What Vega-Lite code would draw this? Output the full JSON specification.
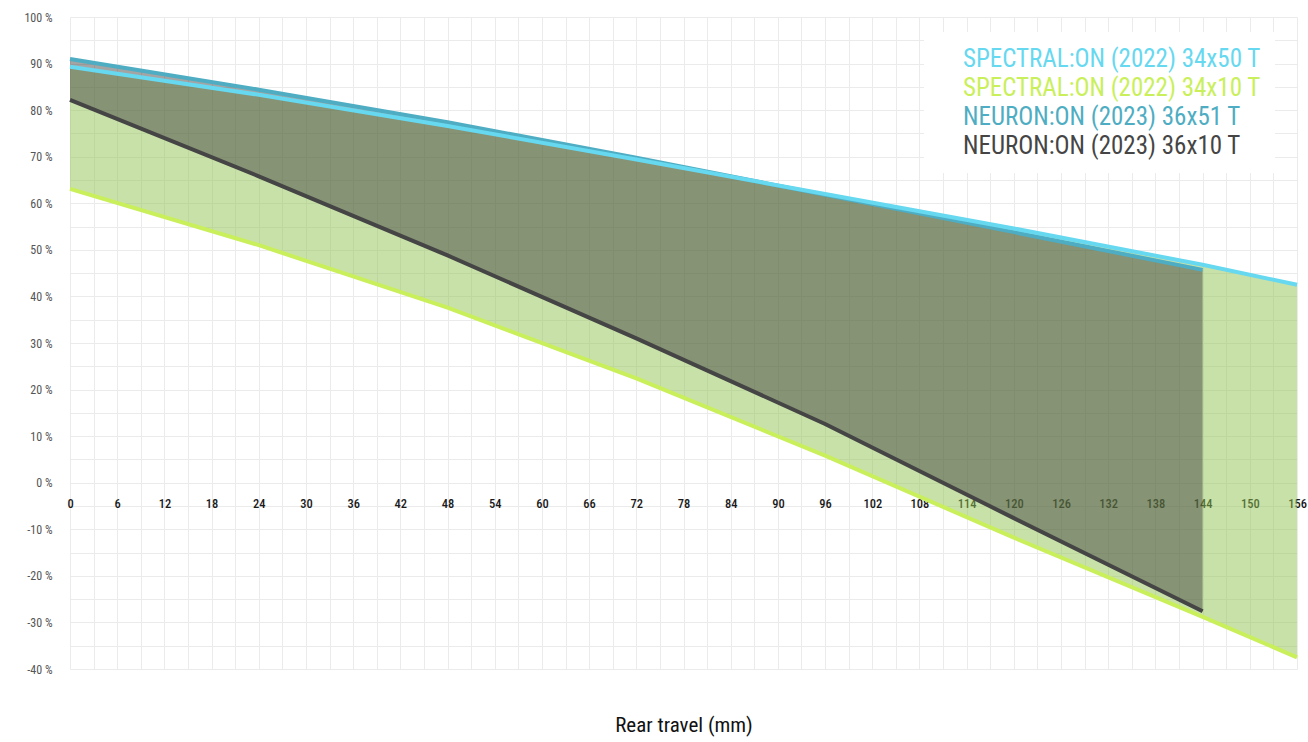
{
  "$schema": "https://vega.github.io/schema/vega-lite/v6.json",
  "width": 1227,
  "height": 652,
  "autosize": {"type": "none"},
  "padding": {"left": 70, "top": 17, "right": 11, "bottom": 73},
  "config": {
    "view": {"stroke": null},
    "font": "Roboto Condensed, Liberation Sans Narrow, DejaVu Sans Condensed, Roboto, sans-serif"
  },
  "data": {
    "values": [
      {"series": "NEURON:ON (2023) 36x10 T", "mm": 0, "value": 82.2},
      {"series": "NEURON:ON (2023) 36x10 T", "mm": 24, "value": 65.8},
      {"series": "NEURON:ON (2023) 36x10 T", "mm": 48, "value": 48.8},
      {"series": "NEURON:ON (2023) 36x10 T", "mm": 72, "value": 31.0},
      {"series": "NEURON:ON (2023) 36x10 T", "mm": 96, "value": 12.6},
      {"series": "NEURON:ON (2023) 36x10 T", "mm": 120, "value": -7.6},
      {"series": "NEURON:ON (2023) 36x10 T", "mm": 144, "value": -27.6},
      {"series": "NEURON:ON (2023) 36x51 T", "mm": 0, "value": 91.0},
      {"series": "NEURON:ON (2023) 36x51 T", "mm": 24, "value": 84.4},
      {"series": "NEURON:ON (2023) 36x51 T", "mm": 48, "value": 77.4},
      {"series": "NEURON:ON (2023) 36x51 T", "mm": 72, "value": 69.8},
      {"series": "NEURON:ON (2023) 36x51 T", "mm": 96, "value": 61.8},
      {"series": "NEURON:ON (2023) 36x51 T", "mm": 120, "value": 53.8},
      {"series": "NEURON:ON (2023) 36x51 T", "mm": 144, "value": 45.7},
      {"series": "SPECTRAL:ON (2022) 34x10 T", "mm": 0, "value": 63.1},
      {"series": "SPECTRAL:ON (2022) 34x10 T", "mm": 24, "value": 51.0},
      {"series": "SPECTRAL:ON (2022) 34x10 T", "mm": 48, "value": 37.6},
      {"series": "SPECTRAL:ON (2022) 34x10 T", "mm": 72, "value": 22.4},
      {"series": "SPECTRAL:ON (2022) 34x10 T", "mm": 96, "value": 5.8},
      {"series": "SPECTRAL:ON (2022) 34x10 T", "mm": 120, "value": -11.8},
      {"series": "SPECTRAL:ON (2022) 34x10 T", "mm": 144, "value": -28.8},
      {"series": "SPECTRAL:ON (2022) 34x10 T", "mm": 156, "value": -37.5},
      {"series": "SPECTRAL:ON (2022) 34x50 T", "mm": 0, "value": 89.3},
      {"series": "SPECTRAL:ON (2022) 34x50 T", "mm": 24, "value": 83.3},
      {"series": "SPECTRAL:ON (2022) 34x50 T", "mm": 48, "value": 76.6},
      {"series": "SPECTRAL:ON (2022) 34x50 T", "mm": 72, "value": 69.4},
      {"series": "SPECTRAL:ON (2022) 34x50 T", "mm": 96, "value": 62.0},
      {"series": "SPECTRAL:ON (2022) 34x50 T", "mm": 120, "value": 54.6},
      {"series": "SPECTRAL:ON (2022) 34x50 T", "mm": 144, "value": 46.8},
      {"series": "SPECTRAL:ON (2022) 34x50 T", "mm": 156, "value": 42.5}
    ]
  },
  "encoding": {
    "x": {
      "field": "mm",
      "type": "quantitative",
      "scale": {"domain": [0, 156], "nice": false, "zero": false},
      "axis": {
        "values": [0,3,6,9,12,15,18,21,24,27,30,33,36,39,42,45,48,51,54,57,60,63,66,69,72,75,78,81,84,87,90,93,96,99,102,105,108,111,114,117,120,123,126,129,132,135,138,141,144,147,150,153,156],
        "labelExpr": "datum.value % 6 == 0 ? datum.label : ''",
        "offset": -186,
        "domain": false,
        "ticks": false,
        "grid": true,
        "gridColor": "#ebebeb",
        "gridWidth": 1,
        "labelPadding": 14,
        "labelFontSize": 12.5,
        "labelColor": "#1a1a1a",
        "labelFontWeight": 500,
        "labelFlush": false,
        "title": "Rear travel (mm)",
        "titleFontSize": 21,
        "titleFontWeight": "normal",
        "titleColor": "#111111",
        "titleY": 231,
        "titleBaseline": "top",
        "zindex": 0
      }
    },
    "y": {
      "field": "value",
      "type": "quantitative",
      "scale": {"domain": [-40, 100], "nice": false, "zero": false},
      "axis": {
        "values": [-40,-35,-30,-25,-20,-15,-10,-5,0,5,10,15,20,25,30,35,40,45,50,55,60,65,70,75,80,85,90,95,100],
        "labelExpr": "datum.value % 10 == 0 ? datum.value + ' %' : ''",
        "domain": false,
        "ticks": false,
        "grid": true,
        "gridColor": "#ebebeb",
        "gridWidth": 1,
        "labelPadding": 18,
        "labelFontSize": 12,
        "labelColor": "#555555",
        "title": null,
        "zindex": 0
      }
    }
  },
  "layer": [
    {
      "transform": [
        {"filter": {"field": "series", "oneOf": ["SPECTRAL:ON (2022) 34x50 T", "SPECTRAL:ON (2022) 34x10 T"]}},
        {"pivot": "series", "value": "value", "groupby": ["mm"]}
      ],
      "mark": {"type": "area", "color": "#91c351", "opacity": 0.5, "interpolate": "linear"},
      "encoding": {
        "y": {"field": "SPECTRAL:ON (2022) 34x50 T", "type": "quantitative"},
        "y2": {"field": "SPECTRAL:ON (2022) 34x10 T"}
      }
    },
    {
      "transform": [
        {"filter": {"field": "series", "oneOf": ["NEURON:ON (2023) 36x51 T", "NEURON:ON (2023) 36x10 T"]}},
        {"pivot": "series", "value": "value", "groupby": ["mm"]}
      ],
      "mark": {"type": "area", "color": "#353535", "opacity": 0.45, "interpolate": "linear"},
      "encoding": {
        "y": {"field": "NEURON:ON (2023) 36x51 T", "type": "quantitative"},
        "y2": {"field": "NEURON:ON (2023) 36x10 T"}
      }
    },
    {
      "data": {"values": [{"zero": 0}]},
      "mark": {"type": "rule", "color": "#000000", "strokeWidth": 2.5},
      "encoding": {"x": null, "y": {"datum": 0}}
    },
    {
      "data": {"values": [{"zero": 0}]},
      "mark": {"type": "rule", "color": "#000000", "strokeWidth": 2.5},
      "encoding": {"y": null, "x": {"datum": 0}}
    },
    {
      "mark": {"type": "line", "strokeWidth": 4, "interpolate": "linear", "strokeJoin": "round"},
      "encoding": {
        "color": {
          "field": "series",
          "type": "nominal",
          "sort": null,
          "scale": {
            "domain": ["SPECTRAL:ON (2022) 34x50 T", "SPECTRAL:ON (2022) 34x10 T", "NEURON:ON (2023) 36x51 T", "NEURON:ON (2023) 36x10 T"],
            "range": ["#66d8f0", "#c9ef5a", "#4eadc2", "#454545"]
          },
          "legend": {
            "title": null,
            "orient": "none",
            "legendX": 854,
            "legendY": 15,
            "fillColor": "#ffffff",
            "padding": 14,
            "symbolSize": 0,
            "symbolStrokeWidth": 0,
            "symbolOpacity": 0,
            "labelOffset": 0,
            "labelFontSize": 25,
            "labelLimit": 400,
            "rowPadding": 3,
            "encode": {
              "labels": {"update": {"fill": {"scale": "color", "field": "value"}}}
            }
          }
        }
      }
    }
  ]
}
